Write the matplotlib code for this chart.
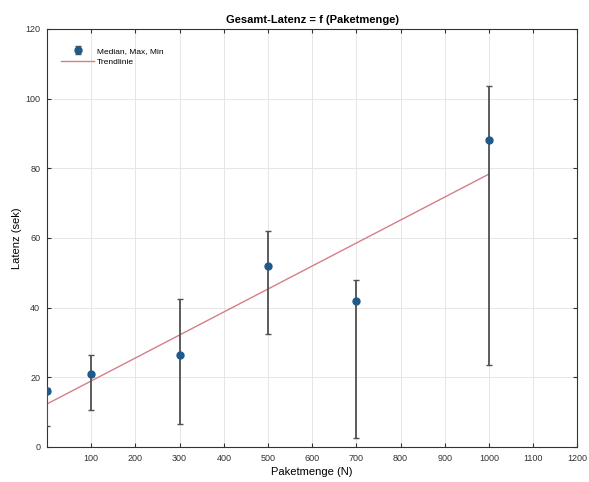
import numpy as np
import matplotlib
matplotlib.use("Agg")
import matplotlib.pyplot as plt

plt.rcParams['font.family'] = ['Liberation Sans', 'DejaVu Sans']

# Paketmenge (N) and latency stats (sek)
pakete = [0, 100, 300, 500, 700, 1000]
median = [16, 21, 26.5, 52, 42, 88]
maximum = [17, 26.5, 42.5, 62, 48, 103.5]
minimum = [6, 10.5, 6.5, 32.5, 2.5, 23.5]
x_ticks = [100, 200, 300, 400, 500, 600, 700, 800, 900, 1000, 1100, 1200]
y_ticks = [0, 20, 40, 60, 80, 100, 120]

med = np.array(median)
err_lo = med - np.array(minimum)
err_hi = np.array(maximum) - med

# linear trend through the medians
coef = np.polyfit(pakete, median, 1)
trend_x = np.array([pakete[0], pakete[-1]])
trend_y = np.polyval(coef, trend_x)

fig = plt.figure(figsize=(5.89, 4.82), dpi=100)
ax = fig.add_axes([0.080, 0.073, 0.900, 0.867])

eb = ax.errorbar(pakete, median, yerr=[err_lo, err_hi], fmt='o', color='#1f5a8a',
                 ecolor='#505050', elinewidth=1.3, capsize=2.5, capthick=1,
                 markersize=5, label='Median, Max, Min', zorder=3)
tl, = ax.plot(trend_x, trend_y, color='#d47f88', linewidth=1, label='Trendlinie', zorder=2)

ax.set_xlim(0, 1200)
ax.set_ylim(0, 120)
ax.set_xticks(x_ticks)
ax.set_yticks(y_ticks)
ax.tick_params(labelsize=6.5, colors='#333333', direction='in', length=3,
               top=True, right=True, pad=5)
ax.grid(True, color='#e6e6e6', linewidth=0.7)
ax.set_axisbelow(True)
for s in ax.spines.values():
    s.set_color('#333333')
    s.set_linewidth(0.8)

ax.set_title('Gesamt-Latenz = f (Paketmenge)', fontsize=8, fontweight='bold', pad=4)
ax.set_xlabel('Paketmenge (N)', fontsize=8, labelpad=3)
ax.set_ylabel('Latenz (sek)', fontsize=8, labelpad=2)

ax.legend([eb, tl], ['Median, Max, Min', 'Trendlinie'], loc='upper left',
          fontsize=6, frameon=False, handlelength=4.0, handletextpad=0.3,
          bbox_to_anchor=(0.012, 0.975), labelspacing=0.4)

fig.savefig('out.png', dpi=100)
